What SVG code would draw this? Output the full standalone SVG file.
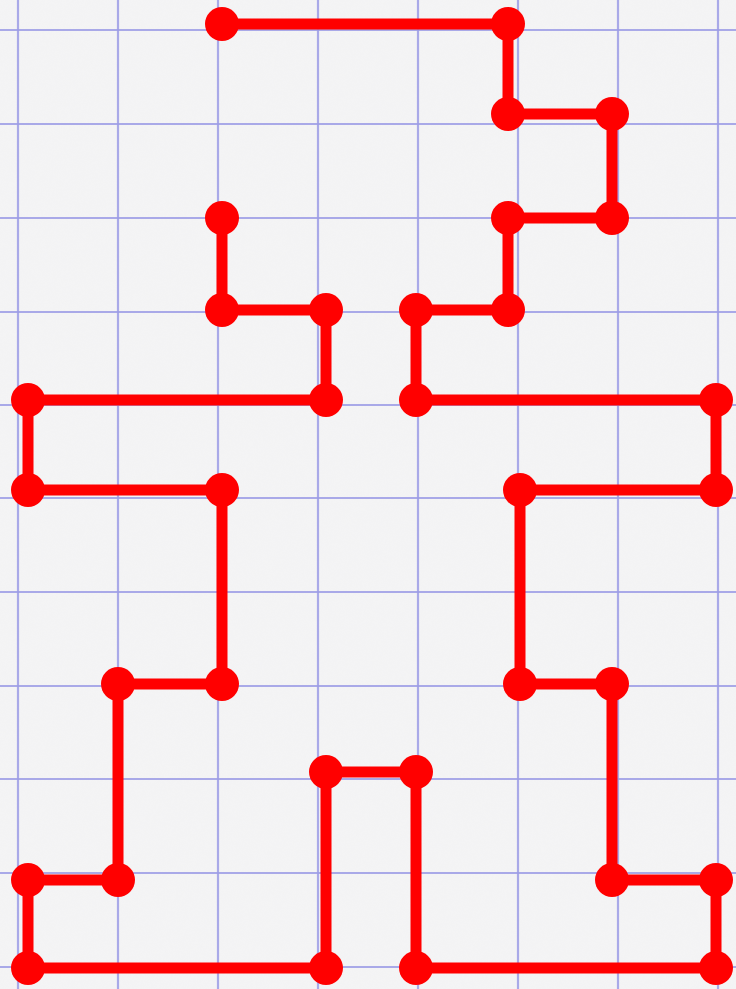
<svg xmlns="http://www.w3.org/2000/svg" width="736" height="989" viewBox="0 0 736 989">
<style>
.grid line{stroke:#9d9de6;stroke-width:2.2;opacity:0.85}
.route{fill:none;stroke:#ff0000;stroke-width:11;stroke-linejoin:miter}
.dot{fill:#ff0000}
</style>
<defs>
<filter id="paper" x="0" y="0" width="100%" height="100%">
<feTurbulence type="fractalNoise" baseFrequency="0.9" numOctaves="2" seed="3"/>
<feColorMatrix type="matrix" values="0 0 0 0 0.93  0 0 0 0 0.93  0 0 0 0 0.94  0 0 0 0.35 0"/>
</filter>
</defs>
<rect width="736" height="989" fill="#f3f3f4"/>
<rect width="736" height="989" filter="url(#paper)" opacity="0.6"/>
<g class="grid">
<line x1="18" y1="0" x2="18" y2="989"/>
<line x1="118" y1="0" x2="118" y2="989"/>
<line x1="218" y1="0" x2="218" y2="989"/>
<line x1="318" y1="0" x2="318" y2="989"/>
<line x1="418" y1="0" x2="418" y2="989"/>
<line x1="518" y1="0" x2="518" y2="989"/>
<line x1="618" y1="0" x2="618" y2="989"/>
<line x1="718" y1="0" x2="718" y2="989"/>
<line x1="0" y1="30" x2="736" y2="30"/>
<line x1="0" y1="124" x2="736" y2="124"/>
<line x1="0" y1="218" x2="736" y2="218"/>
<line x1="0" y1="312" x2="736" y2="312"/>
<line x1="0" y1="405" x2="736" y2="405"/>
<line x1="0" y1="498" x2="736" y2="498"/>
<line x1="0" y1="592" x2="736" y2="592"/>
<line x1="0" y1="686" x2="736" y2="686"/>
<line x1="0" y1="779" x2="736" y2="779"/>
<line x1="0" y1="873" x2="736" y2="873"/>
<line x1="0" y1="967" x2="736" y2="967"/>
</g>
<g id="connectors">
<polyline class="route" points="222,24 508,24 508,114 612,114 612,218 508,218 508,310 416,310 416,400 716,400 716,490 520,490 520,684 612,684 612,880 716,880 716,968 416,968 416,772 326,772 326,968 28,968 28,880 118,880 118,684 222,684 222,490 28,490 28,400 326,400 326,310 222,310 222,218"/>
</g>
<g id="nodes">
<circle id="n1" class="dot" cx="222" cy="24" r="17"/>
<circle id="n2" class="dot" cx="508" cy="24" r="17"/>
<circle id="n3" class="dot" cx="508" cy="114" r="17"/>
<circle id="n4" class="dot" cx="612" cy="114" r="17"/>
<circle id="n5" class="dot" cx="612" cy="218" r="17"/>
<circle id="n6" class="dot" cx="508" cy="218" r="17"/>
<circle id="n7" class="dot" cx="508" cy="310" r="17"/>
<circle id="n8" class="dot" cx="416" cy="310" r="17"/>
<circle id="n9" class="dot" cx="416" cy="400" r="17"/>
<circle id="n10" class="dot" cx="716" cy="400" r="17"/>
<circle id="n11" class="dot" cx="716" cy="490" r="17"/>
<circle id="n12" class="dot" cx="520" cy="490" r="17"/>
<circle id="n13" class="dot" cx="520" cy="684" r="17"/>
<circle id="n14" class="dot" cx="612" cy="684" r="17"/>
<circle id="n15" class="dot" cx="612" cy="880" r="17"/>
<circle id="n16" class="dot" cx="716" cy="880" r="17"/>
<circle id="n17" class="dot" cx="716" cy="968" r="17"/>
<circle id="n18" class="dot" cx="416" cy="968" r="17"/>
<circle id="n19" class="dot" cx="416" cy="772" r="17"/>
<circle id="n20" class="dot" cx="326" cy="772" r="17"/>
<circle id="n21" class="dot" cx="326" cy="968" r="17"/>
<circle id="n22" class="dot" cx="28" cy="968" r="17"/>
<circle id="n23" class="dot" cx="28" cy="880" r="17"/>
<circle id="n24" class="dot" cx="118" cy="880" r="17"/>
<circle id="n25" class="dot" cx="118" cy="684" r="17"/>
<circle id="n26" class="dot" cx="222" cy="684" r="17"/>
<circle id="n27" class="dot" cx="222" cy="490" r="17"/>
<circle id="n28" class="dot" cx="28" cy="490" r="17"/>
<circle id="n29" class="dot" cx="28" cy="400" r="17"/>
<circle id="n30" class="dot" cx="326" cy="400" r="17"/>
<circle id="n31" class="dot" cx="326" cy="310" r="17"/>
<circle id="n32" class="dot" cx="222" cy="310" r="17"/>
<circle id="n33" class="dot" cx="222" cy="218" r="17"/>
</g>
</svg>
